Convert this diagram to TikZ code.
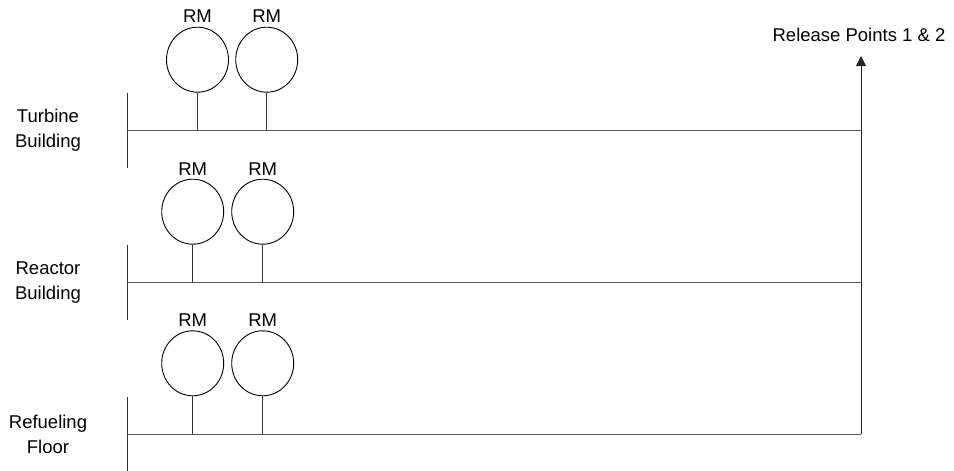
\documentclass[tikz,border=0pt]{standalone}
\usepackage{fontspec}
\setmainfont{Liberation Sans}
\usetikzlibrary{arrows.meta, positioning, shapes.geometric}
\definecolor{wire}{HTML}{555555}

\begin{document}
\begin{tikzpicture}[x=1pt, y=-1pt, >={Triangle[width=10pt, length=10pt]},
    font=\fontsize{18.5}{25}\selectfont,
    monitor/.style={ellipse, draw, line width=0.9pt, minimum width=62pt, minimum height=65pt, inner sep=0pt},
    bus/.style={wire, line width=1.3pt},
    wall/.style={black!80, line width=1pt},
    floorlabel/.style={align=center, inner sep=0pt}]
  \useasboundingbox (0,0) rectangle (954,471);

  % Turbine Building
  \begin{scope}[shift={(0,130.7)}]
    \node[floorlabel] (tbLabel) at (48,0) {Turbine\\Building};
    \coordinate (tbStart) at (127,0);
    \coordinate (tbEnd) at (861,0);
    \draw[wall] (127,-37.7) -- (127,37.3);
    \draw[bus] (tbStart) -- (tbEnd);
    \foreach \i/\x in {1/197.5, 2/266.7} {
      \node[monitor] (tb\i) at (\x,-71) {};
      \node (tbRM\i) at (\x,-114.5) {RM};
      \draw[wall] (tb\i.south) -- (tb\i.south |- tbStart);
    }
  \end{scope}

  % Reactor Building
  \begin{scope}[shift={(0,282.7)}]
    \node[floorlabel] (rbLabel) at (48,0) {Reactor\\Building};
    \coordinate (rbStart) at (127,0);
    \coordinate (rbEnd) at (861,0);
    \draw[wall] (127,-37.7) -- (127,37.3);
    \draw[bus] (rbStart) -- (rbEnd);
    \foreach \i/\x in {1/192.7, 2/262.7} {
      \node[monitor] (rb\i) at (\x,-71) {};
      \node (rbRM\i) at (\x,-114) {RM};
      \draw[wall] (rb\i.south) -- (rb\i.south |- rbStart);
    }
  \end{scope}

  % Refueling Floor
  \begin{scope}[shift={(0,434.3)}]
    \node[floorlabel] (rfLabel) at (48,0) {Refueling\\Floor};
    \coordinate (rfStart) at (127,0);
    \coordinate (rfEnd) at (861,0);
    \draw[wall] (127,-37.7) -- (127,37.3);
    \foreach \i/\x in {1/192.7, 2/262.7} {
      \node[monitor] (rf\i) at (\x,-71) {};
      \node (rfRM\i) at (\x,-114) {RM};
      \draw[wall] (rf\i.south) -- (rf\i.south |- rfStart);
    }
  \end{scope}

  % Release points
  \node (release) at (859,35) {Release Points 1 \& 2};
  \coordinate (tip) at (861,56);
  \draw[bus] (rfStart) -- (rfEnd);
  \draw[->, black!85, line width=1pt] (rfEnd) -- (tip);
\end{tikzpicture}
\end{document}
